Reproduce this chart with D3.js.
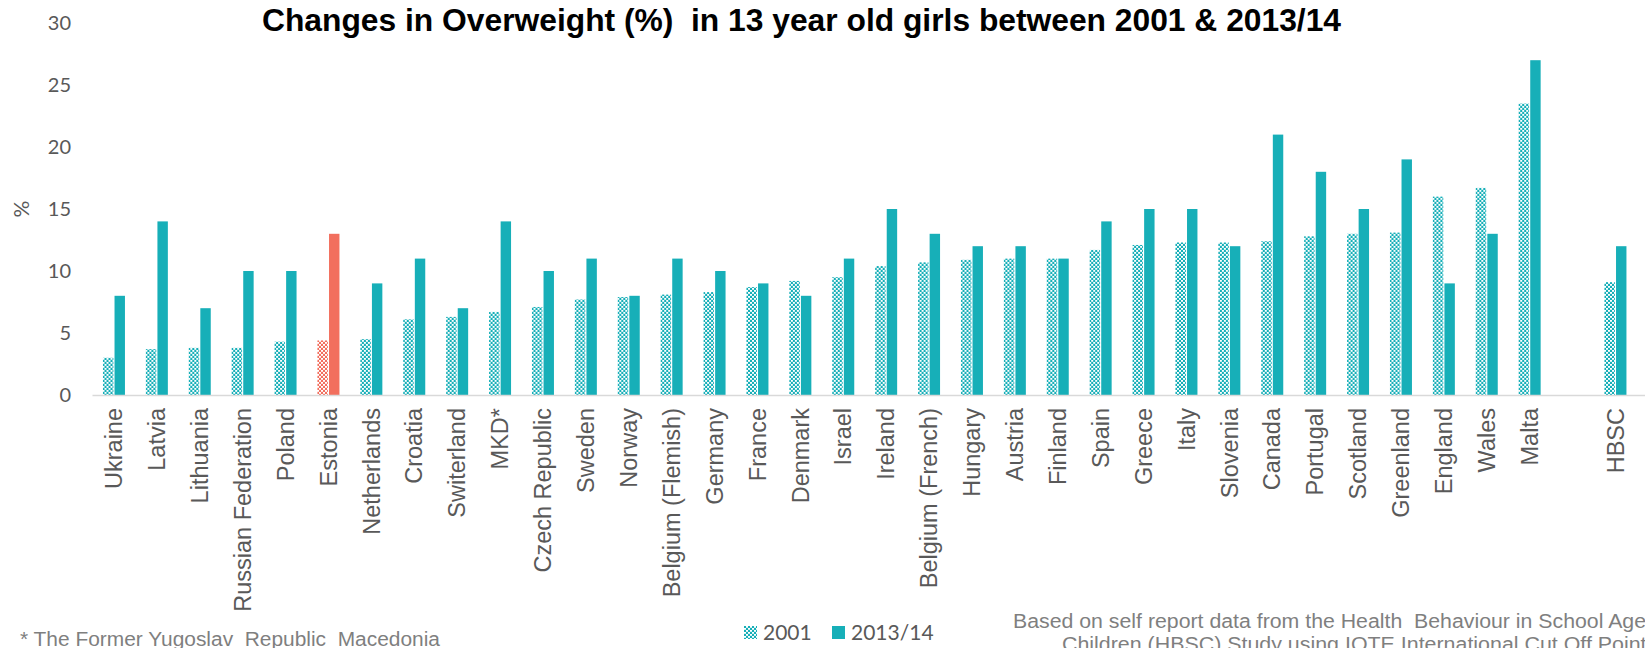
<!DOCTYPE html>
<html>
<head>
<meta charset="utf-8">
<script src="https://cdn.jsdelivr.net/npm/d3@7"></script>
<style>
    body { margin: 0; background: #fff; }
    text { white-space: pre; }
</style>
</head>
<body>
<div id="chart"></div>
<script>
"use strict";

// data
var countries = ["Ukraine", "Latvia", "Lithuania", "Russian Federation", "Poland", "Estonia",
    "Netherlands", "Croatia", "Switerland", "MKD*", "Czech Republic", "Sweden", "Norway",
    "Belgium (Flemish)", "Germany", "France", "Denmark", "Israel", "Ireland", "Belgium (French)",
    "Hungary", "Austria", "Finland", "Spain", "Greece", "Italy", "Slovenia", "Canada", "Portugal",
    "Scotland", "Greenland", "England", "Wales", "Malta", " ", "HBSC"];
var series = ["2001", "2013/14"];
var values2001 = [3.0, 3.7, 3.8, 3.8, 4.3, 4.4, 4.5, 6.1, 6.3, 6.7, 7.1, 7.7, 7.9, 8.1, 8.3, 8.7,
    9.2, 9.5, 10.4, 10.7, 10.9, 11.0, 11.0, 11.7, 12.1, 12.3, 12.3, 12.4, 12.8, 13.0, 13.1, 16.0,
    16.7, 23.5, null, 9.1];
var values2013 = [8, 14, 7, 10, 10, 13, 9, 11, 7, 14, 10, 11, 8, 11, 10, 9, 8, 11, 15, 13, 12, 12,
    11, 14, 15, 15, 12, 21, 18, 15, 19, 9, 13, 27, null, 12];
var yTicks = [0, 5, 10, 15, 20, 25, 30];
var highlight = "Estonia";

var W = 1645, H = 648;
var TEAL = "#17afb8", CORAL = "#f26f5e", GREY = "#595959", LIGHT = "#7f7f7f";

var svg = d3.select("#chart").append("svg")
    .attr("width", W)
    .attr("height", H);

// hatch patterns for the 2001 bars
var defs = svg.append("defs");
function makePattern(id, color) {
    var p = defs.append("pattern")
        .attr("id", id)
        .attr("patternUnits", "userSpaceOnUse")
        .attr("width", 4)
        .attr("height", 4);
    p.append("rect").attr("width", 4).attr("height", 4).attr("fill", color);
    p.append("rect").attr("x", 0).attr("y", 0).attr("width", 2).attr("height", 1.8).attr("fill", "#fff");
    p.append("rect").attr("x", 2).attr("y", 2).attr("width", 2).attr("height", 1.8).attr("fill", "#fff");
}
makePattern("pat-teal", TEAL);
makePattern("pat-coral", CORAL);

var x = d3.scaleBand()
    .domain(countries)
    .range([92.5, 92.5 + 42.9 * countries.length]);

var x1 = d3.scaleBand()
    .domain(series)
    .range([x.bandwidth() / 2 - 11, x.bandwidth() / 2 + 11])
    .paddingInner(0.1);

var y = d3.scaleLinear()
    .domain([0, 30])
    .range([395, 23]);

var rows = countries.map(function(c, i) {
    return { name: c, v: [values2001[i], values2013[i]] };
});

// y tick labels
svg.append("g")
    .selectAll("text")
    .data(yTicks)
    .enter().append("text")
    .attr("x", 71)
    .attr("y", function(d) { return y(d); })
    .attr("dy", "0.36em")
    .attr("text-anchor", "end")
    .style("font-family", "Lato, 'Open Sans', sans-serif")
    .style("font-size", "20px")
    .style("fill", GREY)
    .text(function(d) { return d; });

svg.append("text")
    .attr("transform", "translate(29,209) rotate(-90)")
    .attr("text-anchor", "middle")
    .style("font-family", "Lato, 'Open Sans', sans-serif")
    .style("font-size", "21px")
    .style("fill", GREY)
    .text("%");

// bars
var groups = svg.append("g")
    .selectAll("g")
    .data(rows)
    .enter().append("g")
    .attr("transform", function(d) { return "translate(" + x(d.name) + ",0)"; });

groups.selectAll("rect")
    .data(function(d) {
        return series.map(function(s, j) {
            return { name: d.name, key: s, value: d.v[j] };
        }).filter(function(e) { return e.value != null; });
    })
    .enter().append("rect")
    .attr("x", function(d) { return x1(d.key); })
    .attr("width", x1.bandwidth())
    .attr("y", function(d) { return y(d.value); })
    .attr("height", function(d) { return y(0) - y(d.value); })
    .attr("fill", function(d) {
        var hi = d.name == highlight;
        if (d.key == "2001") return hi ? "url(#pat-coral)" : "url(#pat-teal)";
        return hi ? CORAL : TEAL;
    });

// x axis line
svg.append("line")
    .attr("x1", x.range()[0])
    .attr("x2", W)
    .attr("y1", y(0) + 0.5)
    .attr("y2", y(0) + 0.5)
    .attr("stroke", "#d9d9d9")
    .attr("stroke-width", 1.5);

// category labels
svg.append("g")
    .selectAll("text")
    .data(countries)
    .enter().append("text")
    .attr("transform", function(d) {
        return "translate(" + (x(d) + x.bandwidth() / 2) + ",408) rotate(-90)";
    })
    .attr("dy", "0.35em")
    .attr("text-anchor", "end")
    .style("font-family", "'Liberation Sans', Arial, sans-serif")
    .style("font-size", "23.5px")
    .style("fill", GREY)
    .text(function(d) { return d; });

// title
svg.append("text")
    .attr("x", 262)
    .attr("y", 31)
    .attr("textLength", 1079)
    .attr("lengthAdjust", "spacingAndGlyphs")
    .style("font-family", "'Liberation Sans', Arial, sans-serif")
    .style("font-weight", "bold")
    .style("font-size", "31px")
    .style("fill", "#000")
    .text("Changes in Overweight (%)  in 13 year old girls between 2001 & 2013/14");

// legend
var legend = svg.append("g")
    .selectAll("g")
    .data(series)
    .enter().append("g")
    .attr("transform", function(d, i) { return "translate(" + [744, 832][i] + ",0)"; });
legend.append("rect")
    .attr("y", 626)
    .attr("width", 13)
    .attr("height", 13)
    .attr("fill", function(d, i) { return i == 0 ? "url(#pat-teal)" : TEAL; });
legend.append("text")
    .attr("x", 19)
    .attr("y", 640)
    .style("font-family", "Lato, 'Open Sans', sans-serif")
    .style("font-size", "21px")
    .style("fill", GREY)
    .text(function(d) { return d; });

// notes
function noteLine(str, xPos, yPos, prefix, prefixWidth) {
    var t = svg.append("text")
        .attr("x", xPos)
        .attr("y", yPos)
        .style("font-family", "'Liberation Sans Narrow', 'Liberation Sans', Arial, sans-serif")
        .style("font-size", "20px")
        .style("fill", LIGHT)
        .text(prefix);
    var pw = t.node().getComputedTextLength();
    t.text(str);
    var fw = t.node().getComputedTextLength();
    t.attr("textLength", fw * prefixWidth / pw)
        .attr("lengthAdjust", "spacingAndGlyphs");
    return t;
}

noteLine("* The Former Yugoslav  Republic  Macedonia", 20, 646,
    "* The Former Yugoslav  Republic  Macedonia", 420);
noteLine("Based on self report data from the Health  Behaviour in School Aged", 1013, 628,
    "Based on self report data from the Health  Behavio", 478);
noteLine("Children (HBSC) Study using IOTE International Cut Off Points", 1062, 651,
    "Children (HBSC) Study using IOTE Internatio", 428);
</script>
</body>
</html>
